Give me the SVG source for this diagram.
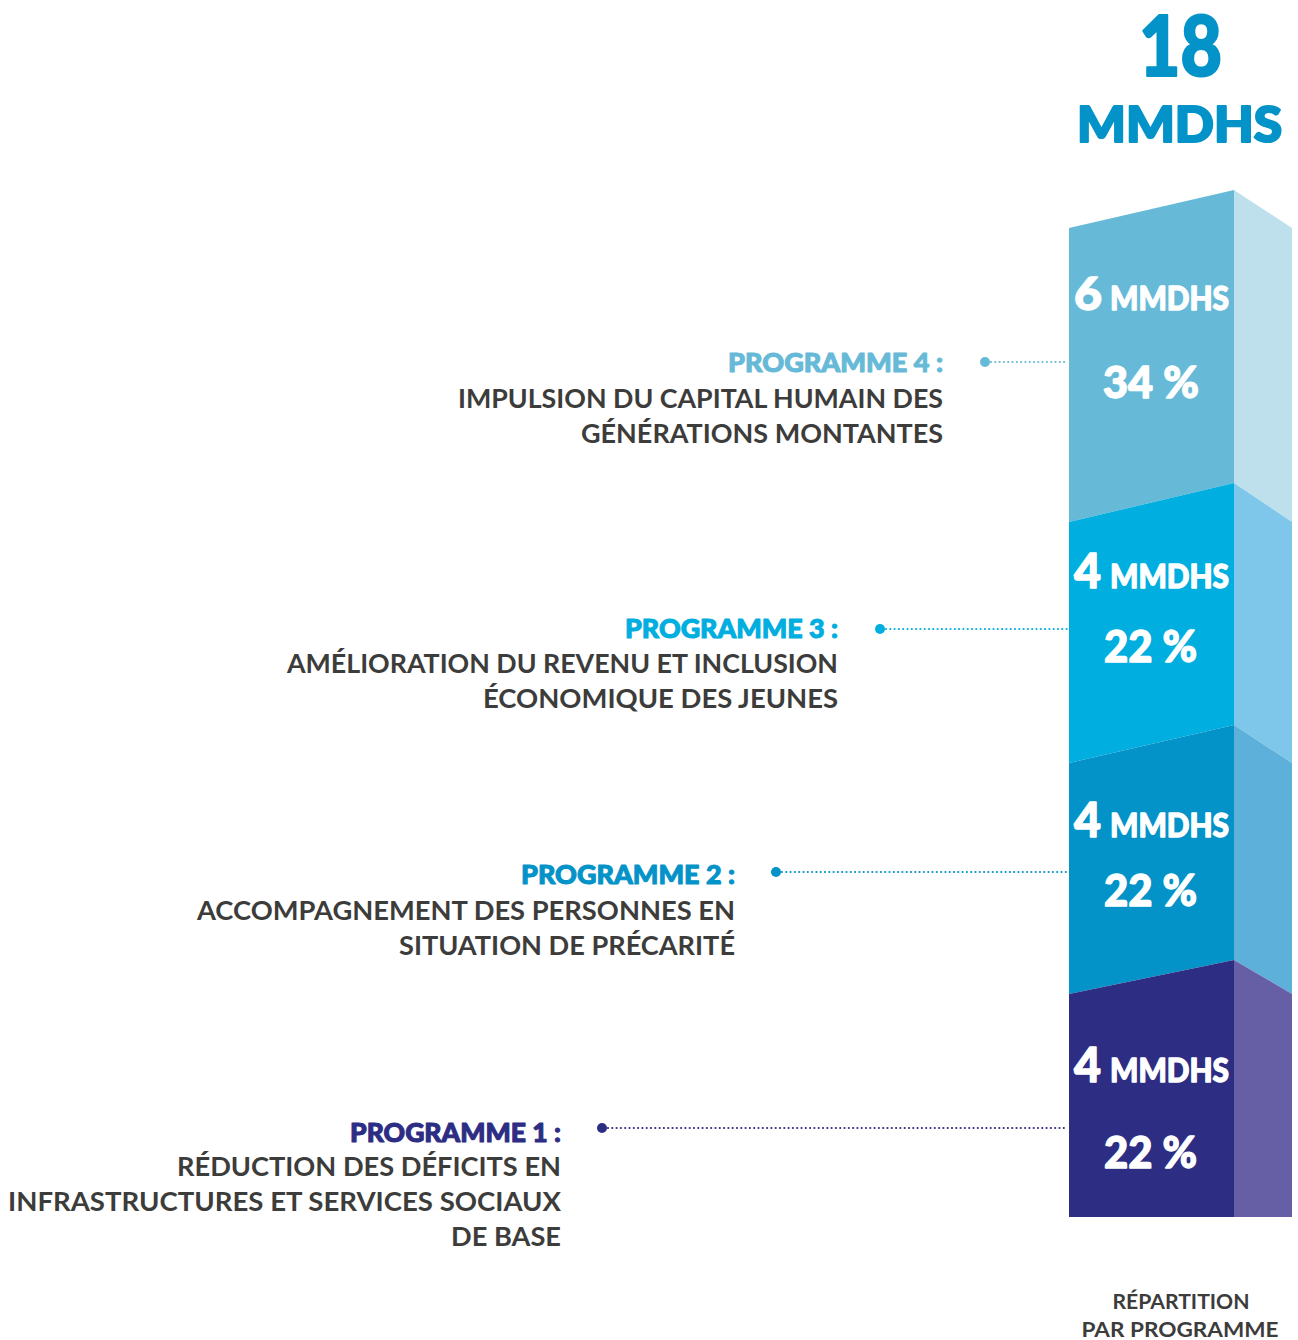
<svg xmlns="http://www.w3.org/2000/svg" width="1298" height="1340" viewBox="0 0 1298 1340">
<style>
.body{font-family:Lato,"Liberation Sans",sans-serif;font-weight:700;font-size:26px;fill:#3c3c3b;text-anchor:end}
.head{font-family:Lato,"Liberation Sans",sans-serif;font-weight:900;font-size:26px;text-anchor:end;stroke-width:1;stroke-linejoin:round}
.big{font-family:Lato,"Liberation Sans",sans-serif;font-weight:900;fill:#ffffff;stroke:#ffffff;stroke-width:1.3;stroke-linejoin:round}
.ttl{font-family:Lato,"Liberation Sans",sans-serif;font-weight:900;fill:#0393c8;stroke:#0393c8;stroke-width:2.2;stroke-linejoin:round}
.lead{fill:none;stroke-width:2.2;stroke-linecap:round;stroke-dasharray:0 4.3}
.foot{font-family:Lato,"Liberation Sans",sans-serif;font-weight:700;font-size:21px;fill:#3c3c3b;text-anchor:middle}
</style>
<rect width="1298" height="1340" fill="#ffffff"/>
<g id="title">
<text class="ttl" x="1139" y="76" font-size="84" textLength="83" lengthAdjust="spacingAndGlyphs">18</text>
<text class="ttl" x="1077" y="142" font-size="49" textLength="205" lengthAdjust="spacingAndGlyphs">MMDHS</text>
</g>
<g id="bar">
<g id="seg4">
<polygon points="1069,228 1234,190 1234,483 1069,522" fill="#67bad7"/>
<polygon points="1234,190 1292,228 1292,522 1234,483" fill="#bee0ec"/>
<text class="big" x="1074" y="310" font-size="46" textLength="28" lengthAdjust="spacingAndGlyphs">6</text>
<text class="big" x="1110" y="310" font-size="33" textLength="119" lengthAdjust="spacingAndGlyphs">MMDHS</text>
<text class="big" x="1103" y="398" font-size="43" textLength="96" lengthAdjust="spacingAndGlyphs">34 %</text>
</g>
<g id="seg3">
<polygon points="1069,522 1234,483 1234,725 1069,763" fill="#00aedf"/>
<polygon points="1234,483 1292,522 1292,763 1234,725" fill="#7ec7ea"/>
<text class="big" x="1074" y="588" font-size="47" textLength="27" lengthAdjust="spacingAndGlyphs">4</text>
<text class="big" x="1110" y="588" font-size="33" textLength="119" lengthAdjust="spacingAndGlyphs">MMDHS</text>
<text class="big" x="1104" y="662" font-size="43" textLength="93" lengthAdjust="spacingAndGlyphs">22 %</text>
</g>
<g id="seg2">
<polygon points="1069,763 1234,725 1234,960 1069,994" fill="#0393c8"/>
<polygon points="1234,725 1292,763 1292,994 1234,960" fill="#5cb0d9"/>
<text class="big" x="1074" y="837" font-size="47" textLength="27" lengthAdjust="spacingAndGlyphs">4</text>
<text class="big" x="1110" y="837" font-size="33" textLength="119" lengthAdjust="spacingAndGlyphs">MMDHS</text>
<text class="big" x="1104" y="906" font-size="43" textLength="93" lengthAdjust="spacingAndGlyphs">22 %</text>
</g>
<g id="seg1">
<polygon points="1069,994 1234,960 1234,1217 1069,1217" fill="#2d2d84"/>
<polygon points="1234,960 1292,994 1292,1217 1234,1217" fill="#675fa6"/>
<text class="big" x="1074" y="1082" font-size="47" textLength="27" lengthAdjust="spacingAndGlyphs">4</text>
<text class="big" x="1110" y="1082" font-size="33" textLength="119" lengthAdjust="spacingAndGlyphs">MMDHS</text>
<text class="big" x="1104" y="1168" font-size="43" textLength="93" lengthAdjust="spacingAndGlyphs">22 %</text>
</g>
</g>
<g id="connectors">
<circle cx="985" cy="362" r="5" fill="#67bad7"/>
<line class="lead" x1="991" y1="362" x2="1068" y2="362" stroke="#67bad7"/>
<circle cx="880" cy="629" r="5" fill="#00aedf"/>
<line class="lead" x1="886" y1="629" x2="1068" y2="629" stroke="#00aedf"/>
<circle cx="776" cy="872" r="5" fill="#0393c8"/>
<line class="lead" x1="782" y1="872" x2="1068" y2="872" stroke="#0393c8"/>
<circle cx="602" cy="1128" r="5" fill="#2d2d84"/>
<line class="lead" x1="608" y1="1128" x2="1068" y2="1128" stroke="#2d2d84"/>
</g>
<g id="label4">
<text class="head" x="943" y="372" fill="#67bad7" stroke="#67bad7" textLength="215" lengthAdjust="spacingAndGlyphs">PROGRAMME 4 :</text>
<text class="body" x="943" y="408" textLength="485" lengthAdjust="spacingAndGlyphs">IMPULSION DU CAPITAL HUMAIN DES</text>
<text class="body" x="943" y="443" textLength="362" lengthAdjust="spacingAndGlyphs">GÉNÉRATIONS MONTANTES</text>
</g>
<g id="label3">
<text class="head" x="838" y="638" fill="#00aedf" stroke="#00aedf" textLength="213" lengthAdjust="spacingAndGlyphs">PROGRAMME 3 :</text>
<text class="body" x="838" y="673" textLength="551" lengthAdjust="spacingAndGlyphs">AMÉLIORATION DU REVENU ET INCLUSION</text>
<text class="body" x="838" y="708" textLength="355" lengthAdjust="spacingAndGlyphs">ÉCONOMIQUE DES JEUNES</text>
</g>
<g id="label2">
<text class="head" x="735" y="884" fill="#0393c8" stroke="#0393c8" textLength="214" lengthAdjust="spacingAndGlyphs">PROGRAMME 2 :</text>
<text class="body" x="735" y="920" textLength="538" lengthAdjust="spacingAndGlyphs">ACCOMPAGNEMENT DES PERSONNES EN</text>
<text class="body" x="735" y="955" textLength="336" lengthAdjust="spacingAndGlyphs">SITUATION DE PRÉCARITÉ</text>
</g>
<g id="label1">
<text class="head" x="561" y="1142" fill="#2d2d84" stroke="#2d2d84" textLength="211" lengthAdjust="spacingAndGlyphs">PROGRAMME 1 :</text>
<text class="body" x="561" y="1176" textLength="384" lengthAdjust="spacingAndGlyphs">RÉDUCTION DES DÉFICITS EN</text>
<text class="body" x="561" y="1211" textLength="553" lengthAdjust="spacingAndGlyphs">INFRASTRUCTURES ET SERVICES SOCIAUX</text>
<text class="body" x="561" y="1246" textLength="110" lengthAdjust="spacingAndGlyphs">DE BASE</text>
</g>
<g id="footer">
<text class="foot" x="1181" y="1309" textLength="137" lengthAdjust="spacingAndGlyphs">RÉPARTITION</text>
<text class="foot" x="1180" y="1337" textLength="197" lengthAdjust="spacingAndGlyphs">PAR PROGRAMME</text>
</g>
</svg>
